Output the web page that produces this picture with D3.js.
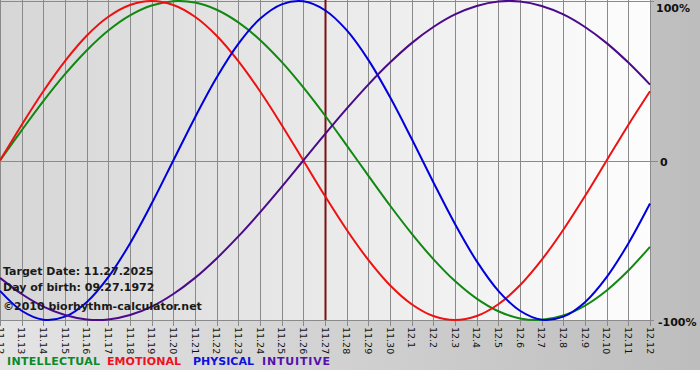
<!DOCTYPE html>
<html>
<head>
<meta charset="utf-8">
<script src="https://cdn.jsdelivr.net/npm/d3@7"></script>
<style>
  body { margin: 0; background: #fff; }
  text { font-family: "DejaVu Sans", Verdana, sans-serif; }
</style>
</head>
<body>
<script>
const width = 700;
const height = 380;

// day labels, 11.12 .. 12.12
const days = ['11.12','11.13','11.14','11.15','11.16','11.17','11.18','11.19','11.20','11.21','11.22',
  '11.23','11.24','11.25','11.26','11.27','11.28','11.29','11.30','12.1','12.2','12.3','12.4','12.5',
  '12.6','12.7','12.8','12.9','12.10','12.11','12.12'];

// values read per day (-1..1)
const physical = [-0.817,-0.942,-0.998,-0.979,-0.888,-0.731,-0.520,-0.270,0,0.270,0.520,0.731,0.888,0.979,
  0.998,0.942,0.817,0.631,0.398,0.136,-0.136,-0.398,-0.631,-0.817,-0.942,-0.998,-0.979,-0.888,-0.731,-0.520,-0.270];
const emotional = [0,0.223,0.434,0.623,0.782,0.901,0.975,1,0.975,0.901,0.782,0.623,0.434,0.223,0,-0.223,
  -0.434,-0.623,-0.782,-0.901,-0.975,-1,-0.975,-0.901,-0.782,-0.623,-0.434,-0.223,0,0.223,0.434];
const intellectual = [0,0.189,0.372,0.541,0.690,0.815,0.910,0.972,0.999,0.990,0.945,0.866,0.756,0.618,0.458,
  0.282,0.095,-0.095,-0.282,-0.458,-0.618,-0.756,-0.866,-0.945,-0.990,-0.999,-0.972,-0.910,-0.815,-0.690,-0.541];
const intuitive = [-0.736,-0.837,-0.916,-0.969,-0.997,-0.997,-0.969,-0.916,-0.837,-0.736,-0.614,-0.476,-0.325,
  -0.165,0,0.165,0.325,0.476,0.614,0.736,0.837,0.916,0.969,0.997,0.997,0.969,0.916,0.837,0.736,0.614,0.476];

const targetDay = '11.27';
const yTicks = [1, 0, -1];
const yTickLabels = ['100%', '0', '-100%'];

const series = [
  { name: 'INTELLECTUAL', values: intellectual, color: '#118811', legendColor: '#0a8a2a', w: 93 },
  { name: 'EMOTIONAL', values: emotional, color: '#ee1111', legendColor: '#ee1122', w: 74 },
  { name: 'PHYSICAL', values: physical, color: '#0000dd', legendColor: '#1111dd', w: 61 },
  { name: 'INTUITIVE', values: intuitive, color: '#4b0a8a', legendColor: '#5511aa', w: 68 }
];

const infoLines = ['Target Date: 11.27.2025', 'Day of birth: 09.27.1972', '\u00a92010 biorhythm-calculator.net'];

const x = d3.scalePoint().domain(days).range([0, 650]);
const y = d3.scaleLinear().domain([-1, 1]).range([320, 1]);

const svg = d3.select('body').append('svg')
  .attr('width', width)
  .attr('height', height);

const defs = svg.append('defs');
const outerGrad = defs.append('linearGradient').attr('id', 'outerGrad')
  .attr('x1', 0).attr('y1', 0).attr('x2', 1).attr('y2', 0);
outerGrad.append('stop').attr('offset', 0).attr('stop-color', '#e4e4e4');
outerGrad.append('stop').attr('offset', 1).attr('stop-color', '#bdbdbd');

const plotGrad = defs.append('linearGradient').attr('id', 'plotGrad')
  .attr('x1', 0).attr('y1', 0).attr('x2', 1).attr('y2', 0);
plotGrad.append('stop').attr('offset', 0).attr('stop-color', '#d6d6d6');
plotGrad.append('stop').attr('offset', 1).attr('stop-color', '#fdfdfd');

defs.append('clipPath').attr('id', 'plotClip')
  .append('rect').attr('x', 0).attr('y', 0).attr('width', 651).attr('height', 322);

svg.append('rect')
  .attr('width', width).attr('height', 370)
  .attr('fill', 'url(#outerGrad)');

svg.append('rect')
  .attr('x', 0).attr('y', 0)
  .attr('width', x('12.12')).attr('height', y(-1))
  .attr('fill', 'url(#plotGrad)');

// vertical grid
svg.append('g')
  .selectAll('line')
  .data(days)
  .join('line')
    .attr('x1', d => Math.round(x(d)) + 0.5).attr('x2', d => Math.round(x(d)) + 0.5)
    .attr('y1', 0).attr('y2', y(-1) + 6)
    .attr('stroke', '#8a8a8a')
    .attr('stroke-width', 1);

// horizontal grid
svg.append('g')
  .selectAll('line')
  .data(yTicks)
  .join('line')
    .attr('x1', 0).attr('x2', d => d === 0 ? x('12.12') + 8 : x('12.12') + 4)
    .attr('y1', d => Math.round(y(d)) + 0.5).attr('y2', d => Math.round(y(d)) + 0.5)
    .attr('stroke', '#8a8a8a');

svg.append('g')
  .selectAll('text')
  .data(yTicks)
  .join('text')
    .attr('x', (d, i) => i === 1 ? 660 : (i === 0 ? 656 : 658))
    .attr('y', (d, i) => [12, 166, 326][i])
    .attr('font-size', 11)
    .attr('font-weight', 'bold')
    .attr('fill', '#111')
    .text((d, i) => yTickLabels[i]);

// target line
svg.append('line')
  .attr('x1', x(targetDay) + 0.5).attr('x2', x(targetDay) + 0.5)
  .attr('y1', 0).attr('y2', y(-1))
  .attr('stroke', '#7a1010')
  .attr('stroke-width', 2);

const line = d3.line()
  .x((d, i) => x(days[i]))
  .y(d => y(d))
  .curve(d3.curveCatmullRom.alpha(0.5));

svg.append('g')
  .attr('clip-path', 'url(#plotClip)')
  .selectAll('path')
  .data(series)
  .join('path')
    .attr('d', d => line(d.values))
    .attr('fill', 'none')
    .attr('stroke', d => d.color)
    .attr('stroke-width', 2);

// day labels
svg.append('g')
  .selectAll('text')
  .data(days)
  .join('text')
    .attr('transform', d => `translate(${x(d)},327) rotate(90)`)
    .attr('dy', '0.35em')
    .attr('font-family', '"Liberation Sans", Arial, sans-serif')
    .attr('font-size', 9.5)
    .attr('fill', '#111')
    .text(d => d);

// info text
svg.append('g')
  .selectAll('text')
  .data(infoLines)
  .join('text')
    .attr('x', 3)
    .attr('y', (d, i) => [275, 291, 310][i])
    .attr('font-size', 11)
    .attr('font-weight', 'bold')
    .attr('fill', '#1a1a1a')
    .text(d => d);

// legend
const legendX = [7, 107, 193, 262];
svg.append('g')
  .selectAll('text')
  .data(series)
  .join('text')
    .attr('x', (d, i) => legendX[i])
    .attr('y', 365)
    .attr('font-size', 11)
    .attr('font-weight', 'bold')
    .attr('textLength', d => d.w)
    .attr('lengthAdjust', 'spacing')
    .attr('fill', d => d.legendColor)
    .text(d => d.name);
</script>
</body>
</html>
